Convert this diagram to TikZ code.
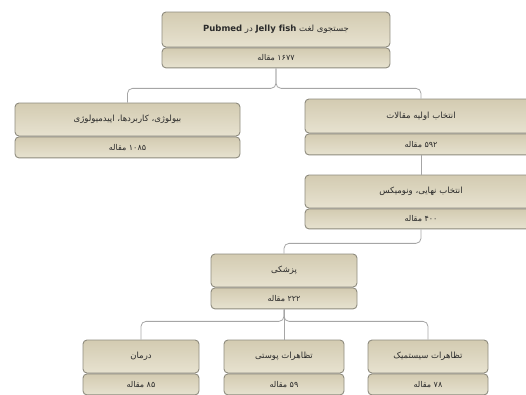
\documentclass[tikz,border=0pt]{standalone}
\usepackage{fontspec}
\newfontfamily\fa[Script=Arabic]{DejaVu Sans}
\TeXXeTstate=1
\usetikzlibrary{positioning}

\definecolor{boxtop}{HTML}{D3CBB1}
\definecolor{boxbot}{HTML}{E7E2D0}
\definecolor{boxline}{HTML}{8E8B7E}
\definecolor{connline}{HTML}{A6A6A6}
\definecolor{boxtext}{HTML}{2B2B2B}

\begin{document}
\begin{tikzpicture}[
    x=1pt, y=-1pt,
    head/.style={draw=boxline, line width=0.9pt, top color=boxtop, bottom color=boxbot,
      rounded corners=4pt, inner sep=0pt, minimum height=33pt, text=boxtext,
      font=\fa\fontsize{8.5}{10}\selectfont},
    cnt/.style={head, minimum height=21pt, font=\fa\fontsize{8}{9}\selectfont},
    conn/.style={draw=connline, line width=0.8pt, rounded corners=5pt},
  ]
  \useasboundingbox (0,0) rectangle (526,394);
  \clip (0,0) rectangle (526,394);

  \node[head, minimum width=228pt, minimum height=35pt] (top) at (276,29.5)
    {\beginR جستجوی لغت \beginL\textbf{Jelly fish}\endL{} در \beginL\textbf{Pubmed}\endL\endR};
  \node[cnt, minimum width=228pt, minimum height=20pt, below=0pt of top] (topc)
    {\beginR\beginL ۱۶۷۷\endL{} مقاله\endR};

  \node[head, minimum width=225pt] (bio) at (127.5,119.5)
    {\beginR بیولوژی، کاربردها، اپیدمیولوژی\endR};
  \node[cnt, minimum width=225pt, below=0pt of bio] (bioc)
    {\beginR\beginL ۱۰۸۵\endL{} مقاله\endR};

  \node[head, minimum width=232pt, minimum height=34pt] (sel) at (421,116)
    {\beginR انتخاب اولیه مقالات\endR};
  \node[cnt, minimum width=232pt, below=0pt of sel] (selc)
    {\beginR\beginL ۵۹۲\endL{} مقاله\endR};

  \node[head, minimum width=232pt] (fin) at (421,191.5)
    {\beginR انتخاب نهایی، ونومیکس\endR};
  \node[cnt, minimum width=232pt, minimum height=20pt, below=0pt of fin] (finc)
    {\beginR\beginL ۴۰۰\endL{} مقاله\endR};

  \node[head, minimum width=146pt] (med) at (284,270.5)
    {\beginR پزشکی\endR};
  \node[cnt, minimum width=146pt, below=0pt of med] (medc)
    {\beginR\beginL ۲۲۲\endL{} مقاله\endR};

  \node[head, minimum width=116pt] (trt) at (141,356.5)
    {\beginR درمان\endR};
  \node[cnt, minimum width=116pt, below=0pt of trt] (trtc)
    {\beginR\beginL ۸۵\endL{} مقاله\endR};

  \node[head, minimum width=120pt] (skin) at (284,356.5)
    {\beginR تظاهرات پوستی\endR};
  \node[cnt, minimum width=120pt, below=0pt of skin] (skinc)
    {\beginR\beginL ۵۹\endL{} مقاله\endR};

  \node[head, minimum width=120pt] (sys) at (428,356.5)
    {\beginR تظاهرات سیستمیک\endR};
  \node[cnt, minimum width=120pt, below=0pt of sys] (sysc)
    {\beginR\beginL ۷۸\endL{} مقاله\endR};

  % connectors
  \foreach \b in {bio,sel} {
      \draw[conn] (topc.south) -- ++(0,20) -| (\b.north);
    }
  \draw[conn] (selc.south) -- (fin.north);
  \draw[conn] (finc.south) -- ++(0,14) -| (med.north);
  \foreach \b in {trt,sys} {
      \draw[conn] (medc.south) -- ++(0,12) -| (\b.north);
    }
  \draw[conn] (medc.south) -- (skin.north);

\end{tikzpicture}
\end{document}
